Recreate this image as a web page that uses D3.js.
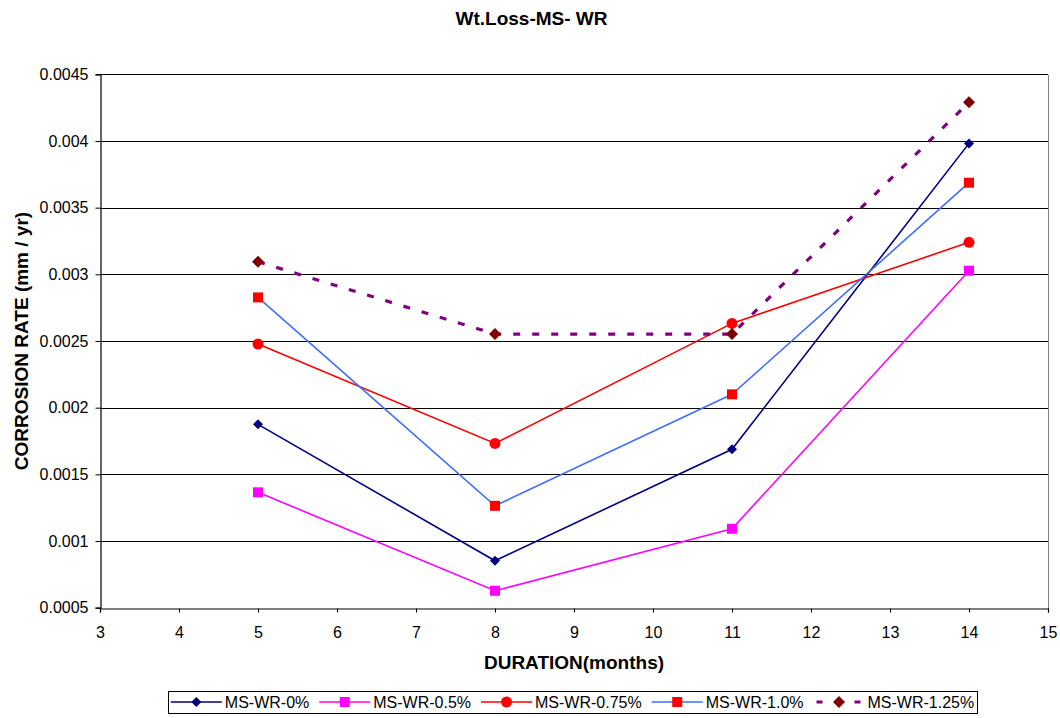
<!DOCTYPE html>
<html>
<head>
<meta charset="utf-8">
<script src="https://cdn.jsdelivr.net/npm/d3@7/dist/d3.min.js"></script>
<style>
  html, body { margin: 0; padding: 0; background: #fff; }
  svg { display: block; }
  text { font-family: "Liberation Sans", Arial, Helvetica, sans-serif; fill: #000; }
</style>
</head>
<body>
<svg id="chart" width="1060" height="718"></svg>
<script>
// Exposure durations (months)
const durations = [5, 8, 11, 14];

// Corrosion rate (mm / yr) for each mix
const ms0   = [0.001875, 0.000852, 0.001688, 0.003982];
const ms05  = [0.001365, 0.000627, 0.001092, 0.003027];
const ms075 = [0.002477, 0.001732, 0.002632, 0.003240];
const ms10  = [0.002827, 0.001264, 0.002100, 0.003687];
const ms125 = [0.003094, 0.002552, 0.002552, 0.004290];

const seriesNames = ["MS-WR-0%", "MS-WR-0.5%", "MS-WR-0.75%", "MS-WR-1.0%", "MS-WR-1.25%"];

// Axis ticks
const xTicks = [3, 4, 5, 6, 7, 8, 9, 10, 11, 12, 13, 14, 15];
const yTicks = [0.0005, 0.001, 0.0015, 0.002, 0.0025, 0.003, 0.0035, 0.004, 0.0045];

const chartTitle = "Wt.Loss-MS- WR";
const xTitle = "DURATION(months)";
const yTitle = "CORROSION RATE (mm / yr)";

// Styling for each series
const styles = [
  { line: "#000080", marker: "diamond", fill: "#000080", size: 9,  width: 1.6, dash: null },
  { line: "#ff00ff", marker: "square",  fill: "#ff00ff", size: 10, width: 1.6, dash: null },
  { line: "#ff0000", marker: "circle",  fill: "#ff0000", size: 11, width: 1.6, dash: null },
  { line: "#3f6dff", marker: "square",  fill: "#ff0000", size: 10, width: 1.6, dash: null },
  { line: "#800080", marker: "diamond", fill: "#800000", size: 11, width: 3.2, dash: "7,12" }
];
const values = [ms0, ms05, ms075, ms10, ms125];
const series = seriesNames.map((name, i) => ({
  name,
  style: styles[i],
  points: durations.map((d, j) => ({ x: d, y: values[i][j] }))
}));

const svg = d3.select("#chart");
const plotL = 100, plotR = 1048, plotT = 74.3, plotB = 607.7;

const x = d3.scaleLinear().domain([3, 15]).range([plotL, plotR]);
const y = d3.scaleLinear().domain([0.0005, 0.0045]).range([plotB, plotT]);

// Horizontal gridlines
svg.append("g")
  .selectAll("line")
  .data(yTicks.filter(v => v > 0.0005))
  .join("line")
  .attr("x1", plotL).attr("x2", plotR)
  .attr("y1", d => Math.round(y(d)) + 0.5)
  .attr("y2", d => Math.round(y(d)) + 0.5)
  .attr("stroke", "#000")
  .attr("stroke-width", 1)
  .attr("shape-rendering", "crispEdges");

// Right edge of plot area
svg.append("line")
  .attr("x1", Math.round(plotR) + 0.5).attr("x2", Math.round(plotR) + 0.5)
  .attr("y1", Math.round(plotT) + 0.5).attr("y2", Math.round(plotB) + 0.5)
  .attr("stroke", "#808080")
  .attr("shape-rendering", "crispEdges");

// Axes
const fmt = d3.format(".4~f");
const yAxis = svg.append("g")
  .attr("transform", `translate(${plotL + 0.5},0)`)
  .call(d3.axisLeft(y).tickValues(yTicks).tickFormat(fmt).tickSize(5).tickPadding(7));
const xAxis = svg.append("g")
  .attr("transform", `translate(0,${Math.round(plotB) + 0.5})`)
  .call(d3.axisBottom(x).tickValues(xTicks).tickFormat(d3.format("d")).tickSize(4).tickPadding(14));

[yAxis, xAxis].forEach(g => {
  g.select(".domain").attr("stroke", "#000").attr("stroke-width", 1.2);
  g.selectAll(".tick line").attr("stroke", "#000");
  g.selectAll(".tick text")
    .attr("font-size", 16)
    .attr("font-family", '"Liberation Sans", Arial, sans-serif')
    .attr("fill", "#000");
});

// Marker drawing
function marker(sel, st) {
  const s = st.size;
  if (st.marker === "circle") {
    sel.append("circle").attr("r", s / 2).attr("fill", st.fill);
  } else if (st.marker === "square") {
    sel.append("rect").attr("x", -s / 2).attr("y", -s / 2)
      .attr("width", s).attr("height", s).attr("fill", st.fill);
  } else {
    const h = s / 2 + 0.5;
    sel.append("path").attr("d", `M0,${-h}L${h},0L0,${h}L${-h},0Z`).attr("fill", st.fill);
  }
}

// Lines and markers
const line = d3.line().x(d => x(d.x)).y(d => y(d.y));
const plot = svg.append("g");
series.forEach(s => {
  plot.append("path")
    .attr("d", line(s.points))
    .attr("fill", "none")
    .attr("stroke", s.style.line)
    .attr("stroke-width", s.style.width)
    .attr("stroke-dasharray", s.style.dash);
});
series.forEach(s => {
  plot.append("g").selectAll("g")
    .data(s.points)
    .join("g")
    .attr("transform", d => `translate(${x(d.x)},${y(d.y)})`)
    .each(function () { marker(d3.select(this), s.style); });
});

// Titles
svg.append("text")
  .attr("x", 531.5).attr("y", 25)
  .attr("text-anchor", "middle")
  .attr("font-size", 19).attr("font-weight", "bold")
  .text(chartTitle);

svg.append("text")
  .attr("x", (plotL + plotR) / 2).attr("y", 669)
  .attr("text-anchor", "middle")
  .attr("font-size", 19).attr("font-weight", "bold")
  .text(xTitle);

svg.append("text")
  .attr("transform", `translate(28,${(plotT + plotB) / 2}) rotate(-90)`)
  .attr("text-anchor", "middle")
  .attr("font-size", 19).attr("font-weight", "bold")
  .text(yTitle);

// Legend
const boxL = 168, boxR = 977;
svg.append("rect")
  .attr("x", boxL + 0.5).attr("y", 691.5)
  .attr("width", boxR - boxL).attr("height", 22)
  .attr("fill", "#fff")
  .attr("stroke", "#000")
  .attr("stroke-width", 1);

const legend = svg.append("g");
const lgY = 702;
const sampleW = 51, textGap = 3, itemGap = 10;
let cx = 0;
series.forEach(s => {
  const g = legend.append("g").attr("transform", `translate(${cx},0)`);
  if (s.style.dash) {
    g.append("line")
      .attr("x1", 3).attr("x2", sampleW - 3)
      .attr("y1", lgY).attr("y2", lgY)
      .attr("stroke", s.style.line)
      .attr("stroke-width", s.style.width)
      .attr("stroke-dasharray", "6,13");
  } else {
    g.append("line")
      .attr("x1", 0).attr("x2", sampleW)
      .attr("y1", lgY).attr("y2", lgY)
      .attr("stroke", s.style.line)
      .attr("stroke-width", s.style.width);
  }
  const m = g.append("g").attr("transform", `translate(${sampleW / 2},${lgY})`);
  marker(m, s.style);
  const t = g.append("text")
    .attr("x", sampleW + textGap).attr("y", lgY)
    .attr("dy", "0.36em")
    .attr("font-size", 16)
    .text(s.name);
  const w = t.node().getComputedTextLength();
  cx += sampleW + textGap + w + itemGap;
});
const totalW = cx - itemGap;
legend.attr("transform", `translate(${(boxL + boxR) / 2 - totalW / 2},0)`);
</script>
</body>
</html>
